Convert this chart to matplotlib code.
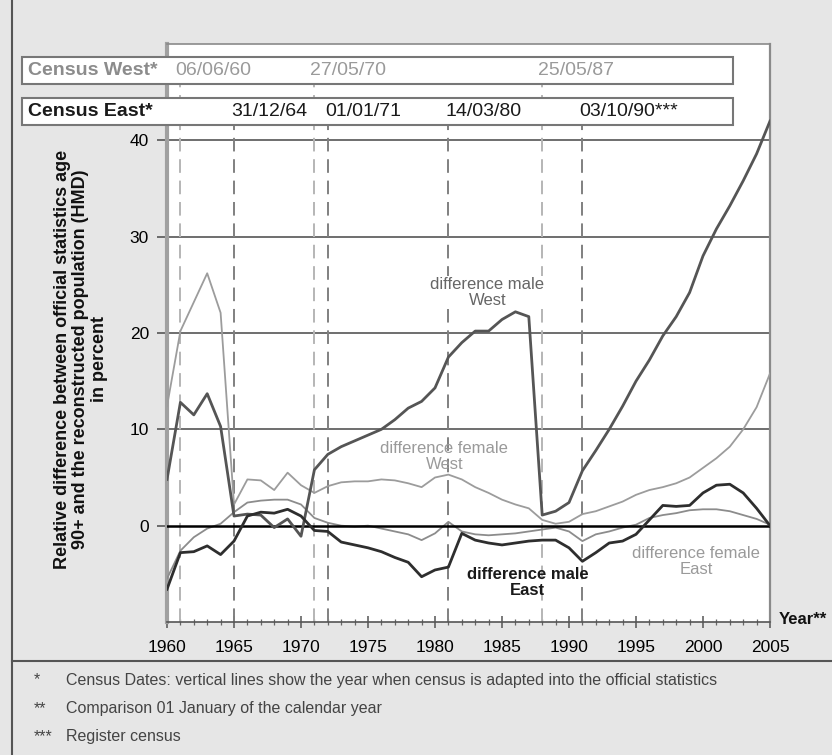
"""
Relative difference official statistics 90+ vs. reconstructed population (HMD),
West and East Germany, 1960-2005
"""
import matplotlib
matplotlib.use('Agg')
import matplotlib.pyplot as plt
import matplotlib.transforms as mtransforms
from matplotlib.patches import Rectangle
from matplotlib.lines import Line2D
import numpy as np

plt.rcParams['font.family'] = ['Liberation Sans', 'DejaVu Sans']

years = np.arange(1960, 2006)

male_west = [4.8, 12.8, 11.5, 13.7, 10.3, 1.0, 1.2, 1.1, -0.2, 0.7,
             -1.1, 5.8, 7.4, 8.2, 8.8, 9.4, 10.0, 11.0, 12.2, 12.9,
             14.3, 17.5, 19.0, 20.2, 20.2, 21.4, 22.2, 21.7, 1.1, 1.5,
             2.4, 5.7, 7.8, 10.0, 12.4, 15.0, 17.2, 19.7, 21.7, 24.2,
             28.0, 30.8, 33.2, 35.8, 38.6, 42.0]
female_west = [12.4, 20.2, 23.2, 26.2, 22.1, 2.2, 4.8, 4.7, 3.7, 5.5,
               4.2, 3.4, 4.1, 4.5, 4.6, 4.6, 4.8, 4.7, 4.4, 4.0,
               5.0, 5.3, 4.8, 4.0, 3.4, 2.7, 2.2, 1.8, 0.6, 0.2,
               0.4, 1.2, 1.5, 2.0, 2.5, 3.2, 3.7, 4.0, 4.4, 5.0,
               6.0, 7.0, 8.2, 10.0, 12.3, 15.8]
male_east = [-6.6, -2.8, -2.7, -2.1, -3.0, -1.6, 1.0, 1.4, 1.3, 1.7,
             1.0, -0.5, -0.6, -1.7, -2.0, -2.3, -2.7, -3.3, -3.8, -5.3,
             -4.6, -4.3, -0.8, -1.5, -1.8, -2.0, -1.8, -1.6, -1.5, -1.5,
             -2.3, -3.7, -2.8, -1.8, -1.6, -0.9, 0.6, 2.1, 2.0, 2.1,
             3.4, 4.2, 4.3, 3.4, 1.8, 0.0]
female_east = [-5.5, -2.6, -1.2, -0.3, 0.2, 1.4, 2.4, 2.6, 2.7, 2.7,
               2.2, 0.8, 0.3, 0.0, -0.1, 0.0, -0.3, -0.6, -0.9, -1.5,
               -0.8, 0.4, -0.6, -0.9, -1.0, -0.9, -0.8, -0.6, -0.4, -0.2,
               -0.6, -1.6, -0.9, -0.6, -0.2, 0.1, 0.8, 1.1, 1.3, 1.6,
               1.7, 1.7, 1.5, 1.1, 0.7, 0.1]

west_census_years = [1961, 1971, 1988]
west_census_dates = ['06/06/60', '27/05/70', '25/05/87']
east_census_years = [1965, 1972, 1981, 1991]
east_census_dates = ['31/12/64', '01/01/71', '14/03/80', '03/10/90***']

W, H = 832, 755
fig = plt.figure(figsize=(W / 100, H / 100), dpi=100)
fig.patch.set_facecolor('#e6e6e6')


def fx(px):
    return px / W


def fy(py):
    return 1 - py / H


ax = fig.add_axes([fx(167), fy(622), fx(770) - fx(167), (622 - 44) / H])
ax.set_facecolor('white')
ax.set_xlim(1960, 2005)
ax.set_ylim(-10, 50)

# horizontal grid
for v in [10, 20, 30, 40]:
    ax.axhline(v, color='#555555', linewidth=1.2, zorder=1)
ax.axhline(0, color='black', linewidth=1.8, zorder=4)

# census lines
for yr in west_census_years:
    ax.plot([yr, yr], [-10, 46], color='#b5b5b5', linewidth=1.4,
            dashes=(7, 4), zorder=2)
for yr in east_census_years:
    ax.plot([yr, yr], [-10, 42], color='#808080', linewidth=1.4,
            dashes=(7, 4), zorder=2)

ax.plot(years, female_west, color='#9c9c9c', linewidth=1.3, zorder=3)
ax.plot(years, female_east, color='#8c8c8c', linewidth=1.3, zorder=3)
ax.plot(years, male_west, color='#555555', linewidth=2.0, zorder=5)
ax.plot(years, male_east, color='#2e2e2e', linewidth=2.0, zorder=5)

lbl_box = dict(facecolor='white', edgecolor='none', pad=1)
ax.text(1983.9, 24.2, 'difference male\nWest', color='#666666', fontsize=12,
        ha='center', va='center', linespacing=1.05, bbox=lbl_box, zorder=6)
ax.text(1980.7, 7.2, 'difference female\nWest', color='#9a9a9a', fontsize=12,
        ha='center', va='center', linespacing=1.05, zorder=6)
ax.text(1986.9, -5.9, 'difference male\nEast', color='#1a1a1a', fontsize=12,
        fontweight='bold', ha='center', va='center', linespacing=1.05, zorder=6)
ax.text(1999.5, -3.7, 'difference female\nEast', color='#9a9a9a', fontsize=12,
        ha='center', va='center', linespacing=1.05, zorder=6)

# spines and ticks
ax.spines['left'].set_color('#a0a0a0')
ax.spines['left'].set_linewidth(3)
ax.spines['right'].set_color('#8a8a8a')
ax.spines['right'].set_linewidth(1.6)
ax.spines['top'].set_color('#8a8a8a')
ax.spines['top'].set_linewidth(1.2)
ax.spines['bottom'].set_color('#555555')
ax.spines['bottom'].set_linewidth(1.2)

ax.set_yticks([0, 10, 20, 30, 40])
ax.tick_params(axis='y', length=7, width=1.2, color='#555555',
               labelsize=12.5, pad=6)
ax.set_xticks(np.arange(1960, 2006, 5))
ax.set_xticks(np.arange(1960, 2006, 1), minor=True)
ax.tick_params(axis='x', which='major', direction='inout', length=8,
               width=1.1, color='#555555', labelsize=12.5, pad=9)
ax.tick_params(axis='x', which='minor', direction='inout', length=4,
               width=0.9, color='#666666')

# census header boxes
for top, bot in [(57, 84), (98, 125)]:
    fig.patches.append(Rectangle((fx(22), fy(bot)), fx(733) - fx(22),
                                 (bot - top) / H, transform=fig.transFigure,
                                 facecolor='white', edgecolor='#777777',
                                 linewidth=1.5, zorder=5))
fig.text(fx(28), fy(70.5), 'Census West*', color='#8c8c8c', fontsize=14,
         fontweight='bold', va='center', zorder=6)
fig.text(fx(28), fy(111.5), 'Census East*', color='#1a1a1a', fontsize=14,
         fontweight='bold', va='center', zorder=6)
trans = mtransforms.blended_transform_factory(ax.transData, fig.transFigure)
for yr, d in zip(west_census_years, west_census_dates):
    fig.text(yr - 0.35, fy(70.5), d, transform=trans, color='#9a9a9a',
             fontsize=14, va='center', zorder=6)
for yr, d in zip(east_census_years, east_census_dates):
    fig.text(yr - 0.2, fy(111.5), d, transform=trans, color='#1a1a1a',
             fontsize=14, va='center', zorder=6)

# axis titles
fig.text(fx(81), fy(359),
         'Relative difference between official statistics age\n'
         '90+ and the reconstructed population (HMD)\nin percent',
         rotation=90, ha='center', va='center', multialignment='center',
         fontsize=13, fontweight='bold', linespacing=1.08, color='#111111')
fig.text(fx(779), fy(620), 'Year**', fontsize=12, fontweight='bold',
         va='center', color='#111111')

# frame lines and footnotes
fig.add_artist(Line2D([fx(12), fx(12)], [0, 1], transform=fig.transFigure,
                      color='#555555', linewidth=1.5))
fig.add_artist(Line2D([fx(12), 1], [fy(661), fy(661)], transform=fig.transFigure,
                      color='#555555', linewidth=1.5))
notes = [('*', 'Census Dates: vertical lines show the year when census is adapted into the official statistics'),
         ('**', 'Comparison 01 January of the calendar year'),
         ('***', 'Register census')]
for i, (mark, txt) in enumerate(notes):
    yy = fy(680 + 28.5 * i)
    fig.text(fx(34), yy, mark, fontsize=11.5, color='#444444', va='center')
    fig.text(fx(66), yy, txt, fontsize=11.5, color='#444444', va='center')

fig.savefig('out.png', dpi=100, facecolor=fig.get_facecolor())
print("saved: out.png")
